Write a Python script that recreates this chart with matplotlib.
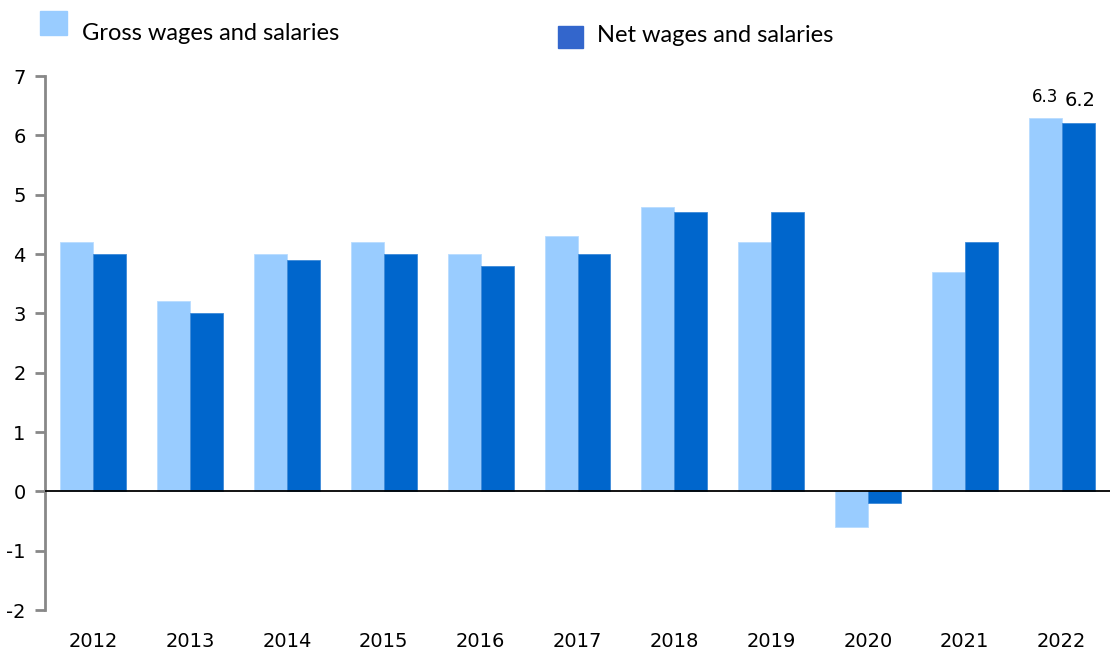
import numpy as np
import matplotlib
matplotlib.use("Agg")
import matplotlib.pyplot as plt
from matplotlib.patches import Rectangle

years = ["2012", "2013", "2014", "2015", "2016", "2017", "2018", "2019", "2020", "2021", "2022"]
gross = [4.2, 3.2, 4.0, 4.2, 4.0, 4.3, 4.8, 4.2, -0.6, 3.7, 6.3]
net = [4.0, 3.0, 3.9, 4.0, 3.8, 4.0, 4.7, 4.7, -0.2, 4.2, 6.2]

gross_col = "#99ccff"
net_col = "#0066cc"

plt.rcParams["axes.unicode_minus"] = False

fig = plt.figure(figsize=(11.14, 6.53), dpi=100)
ax = fig.add_axes([45 / 1114, 1 - 610 / 653, 1065 / 1114, (610 - 76) / 653])

x = np.arange(len(years))
w = 0.34
ax.bar(x - w / 2, gross, w, color=gross_col, edgecolor="#b8dcff", linewidth=0.6)
ax.bar(x + w / 2, net, w, color=net_col, edgecolor="#3d8ad9", linewidth=0.6)

ax.axhline(0, color="black", linewidth=1.3, zorder=3)
ax.set_xlim(-0.5, len(years) - 0.5)
ax.set_ylim(-2, 7)
ax.set_yticks(range(-2, 8))
ax.set_xticks(x)
ax.set_xticklabels(years)

for s in ["top", "right", "bottom"]:
    ax.spines[s].set_visible(False)
ax.spines["left"].set_color("#888888")
ax.spines["left"].set_linewidth(2)
ax.tick_params(axis="y", colors="#888888", length=7, width=2, labelcolor="black", labelsize=14, pad=7)
ax.tick_params(axis="x", length=0, labelsize=14, pad=16)

# value labels on the last pair
ax.text(x[-1] - w / 2, gross[-1] + 0.2, f"{gross[-1]}", ha="center", va="bottom", fontsize=12)
ax.text(x[-1] + w / 2 + 0.02, net[-1] + 0.22, f"{net[-1]}", ha="center", va="bottom", fontsize=14)

# legend drawn at the top
fig.patches.append(Rectangle((40 / 1114, 1 - 35 / 653), 27 / 1114, 24 / 653,
                             transform=fig.transFigure, color=gross_col))
fig.text(82 / 1114, 1 - 33 / 653, "Gross wages and salaries", fontsize=17, va="center",
         family="Lato")
fig.patches.append(Rectangle((558 / 1114, 1 - 48 / 653), 25 / 1114, 22 / 653,
                             transform=fig.transFigure, color="#3366cc"))
fig.text(597 / 1114, 1 - 36 / 653, "Net wages and salaries", fontsize=17, va="center",
         family="Lato")

fig.savefig("out.png", dpi=100)
